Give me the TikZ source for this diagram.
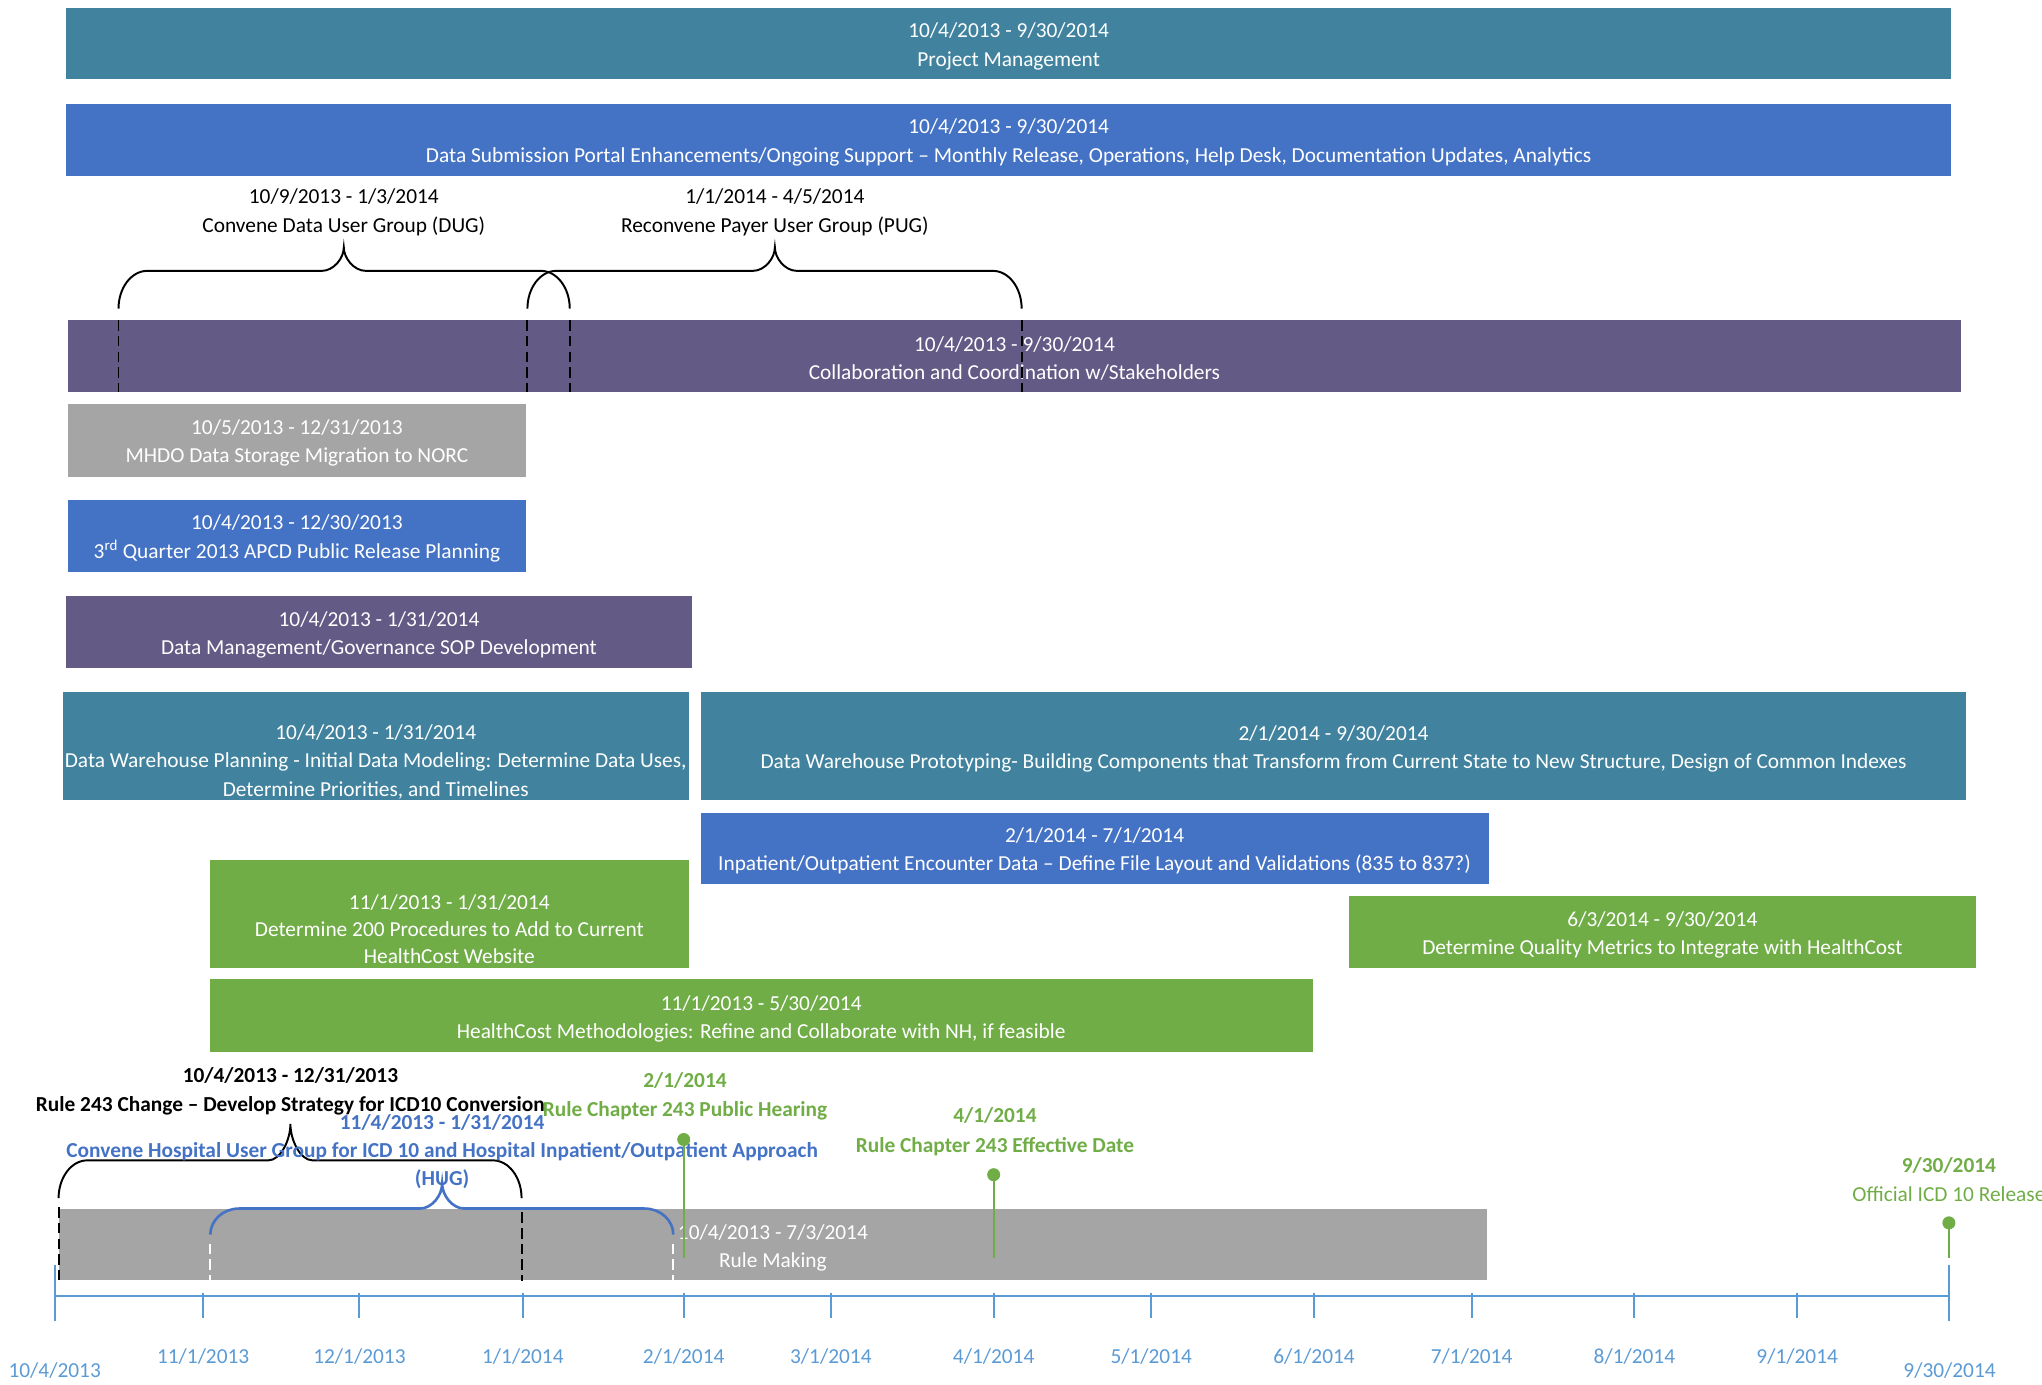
\documentclass[tikz,border=0pt]{standalone}
\usepackage{fontspec}
\setmainfont{Carlito}
\usetikzlibrary{positioning}
\definecolor{pmteal}{RGB}{65,131,158}
\definecolor{dsblue}{RGB}{68,114,196}
\definecolor{colpurple}{RGB}{99,90,134}
\definecolor{migray}{RGB}{165,165,165}
\definecolor{hcgreen}{RGB}{112,173,71}
\definecolor{axblue}{RGB}{91,155,213}
% brace: [style]{left x}{right x}{tip x}{end y}{line y}{tip y}
\newcommand{\tlbrace}[7][]{%
  \draw[#1] (#2,#5) .. controls (#2,{#5-0.552*(#5-#6)}) and ({#2+9.9},#6) .. ({#2+22},#6)
    -- ({#4-17},#6) .. controls ({#4-7.6},#6) and (#4,{#6-0.552*(#6-#7)}) .. (#4,#7)
    .. controls (#4,{#6-0.552*(#6-#7)}) and ({#4+7.6},#6) .. ({#4+17},#6)
    -- ({#3-22},#6) .. controls ({#3-9.9},#6) and (#3,{#5-0.552*(#5-#6)}) .. (#3,#5);}

\begin{document}
\begin{tikzpicture}[x=1pt,y=-1pt,
                    every node/.style={font=\fontsize{16.4}{21.8}\selectfont,align=center,inner sep=0pt,yshift=-2pt},
                    bartxt/.style={text=white},
                    bracepen/.style={line width=1.5pt},
                    dashpen/.style={line width=1.5pt,dash pattern=on 8pt off 4pt},
                    msline/.style={hcgreen,line width=1.5pt},
                    mstxt/.style={text=hcgreen,font=\fontsize{16.4}{22.5}\selectfont\bfseries},
                    tick/.style={axblue,line width=1.5pt},
                    axlbl/.style={text=axblue}]
    \useasboundingbox (0,0) rectangle (1568,1063.5);
    % bars
    \fill[pmteal] (51,6) rectangle (1498,61);
    \node[bartxt] (pm) at (774.5,33.5) {10/4/2013 - 9/30/2014\\Project Management};
    \fill[dsblue] (51,80) rectangle (1498,135);
    \node[bartxt] (portal) at (774.5,107.5) {10/4/2013 - 9/30/2014\\Data Submission Portal Enhancements/Ongoing Support -- Monthly Release, Operations, Help Desk, Documentation Updates, Analytics};
    \fill[colpurple] (52,246) rectangle (1506,301);
    \node[bartxt] (collab) at (779,273.5) {10/4/2013 - 9/30/2014\\Collaboration and Coordination w/Stakeholders};
    \fill[migray] (52,310) rectangle (404,366);
    \node[bartxt] (norc) at (228,338) {10/5/2013 - 12/31/2013\\MHDO Data Storage Migration to NORC};
    \fill[dsblue] (52,384) rectangle (404,439);
    \node[bartxt] (apcd) at (228,411.5) {10/4/2013 - 12/30/2013\\3\textsuperscript{rd} Quarter 2013 APCD Public Release Planning};
    \fill[colpurple] (51,458) rectangle (531,513);
    \node[bartxt] (sop) at (291,485.5) {10/4/2013 - 1/31/2014\\Data Management/Governance SOP Development};
    \fill[pmteal] (48,531) rectangle (529,614);
    \node[bartxt] (dwplan) at (288.5,583) {10/4/2013 - 1/31/2014\\Data Warehouse Planning - Initial Data Modeling: Determine Data Uses,\\Determine Priorities, and Timelines};
    \fill[pmteal] (538,531) rectangle (1510,614);
    \node[bartxt] (dwproto) at (1024,573) {2/1/2014 - 9/30/2014\\Data Warehouse Prototyping- Building Components that Transform from Current State to New Structure, Design of Common Indexes};
    \fill[dsblue] (538,624) rectangle (1143,679);
    \node[bartxt] (encounter) at (840.5,651.5) {2/1/2014 - 7/1/2014\\Inpatient/Outpatient Encounter Data -- Define File Layout and Validations (835 to 837?)};
    \fill[hcgreen] (161,660) rectangle (529,743);
    \node[bartxt,font=\fontsize{16.4}{20.8}\selectfont] (proc) at (345,711.5) {11/1/2013 - 1/31/2014\\Determine 200 Procedures to Add to Current\\HealthCost Website};
    \fill[hcgreen] (1036,688) rectangle (1517,743);
    \node[bartxt] (quality) at (1276.5,716) {6/3/2014 - 9/30/2014\\Determine Quality Metrics to Integrate with HealthCost};
    \fill[hcgreen] (161,752) rectangle (1008,808);
    \node[bartxt] (method) at (584.5,780.5) {11/1/2013 - 5/30/2014\\HealthCost Methodologies: Refine and Collaborate with NH, if feasible};
    \fill[migray] (45,928) rectangle (1142,983);
    \node[bartxt] (rule) at (593.5,956) {10/4/2013 - 7/3/2014\\Rule Making};
    % user groups over the collaboration bar
    \tlbrace[bracepen]{91}{437.5}{264}{237}{208}{190}
    \tlbrace[bracepen]{405}{784.5}{595}{237}{208}{190}
    \foreach \x in {91,405,437.5,784.5}
        \draw[dashpen] (\x,246) -- (\x,301);
    \node (dug) at (264,161) {10/9/2013 - 1/3/2014\\Convene Data User Group (DUG)};
    \node (pug) at (595,161) {1/1/2014 - 4/5/2014\\Reconvene Payer User Group (PUG)};
    % rule making groups
    \tlbrace[bracepen]{45}{400.5}{223}{920}{891}{863}
    \draw[dashpen] (45,927) -- (45,984);
    \draw[dashpen] (400.5,931) -- (400.5,984);
    \tlbrace[bracepen,dsblue,line width=2pt]{161.5}{517}{339.5}{948}{928}{909}
    \draw[dashpen,white] (161.5,955) -- (161.5,984);
    \draw[dashpen,white] (517,955) -- (517,984);
    \node[font=\fontsize{16.4}{22.5}\selectfont\bfseries] (icd) at (223,836) {10/4/2013 - 12/31/2013\\Rule 243 Change -- Develop Strategy for ICD10 Conversion};
    \node[text=dsblue,font=\fontsize{16.4}{21.5}\selectfont\bfseries] (hug) at (339.5,882) {11/4/2013 - 1/31/2014\\Convene Hospital User Group for ICD 10 and Hospital Inpatient/Outpatient Approach\\(HUG)};
    % milestones
    \coordinate (hearing) at (525,873);
    \fill[hcgreen] (hearing) circle (5);
    \draw[msline] (hearing) -- (525,966);
    \node[mstxt] (hearingtxt) at (526,840) {2/1/2014\\Rule Chapter 243 Public Hearing};
    \coordinate (effective) at (763,900);
    \fill[hcgreen] (effective) circle (5);
    \draw[msline] (effective) -- (763,966);
    \node[mstxt] (effectivetxt) at (764,867) {4/1/2014\\Rule Chapter 243 Effective Date};
    \coordinate (release) at (1496.5,937);
    \fill[hcgreen] (release) circle (5);
    \draw[msline] (release) -- (1496.5,966);
    \node[mstxt] (releasetxt) at (1496.5,904) {9/30/2014\\\mdseries Official ICD 10 Release};
    % time axis
    \coordinate (axstart) at (42,993);
    \coordinate (axend) at (1496.5,993);
    \draw[axblue,line width=2pt] (axstart) -- (axend);
    \draw[tick] (42,971) -- (42,1014);
    \draw[tick] (1496.5,971) -- (1496.5,1014);
    \foreach \x/\m/\yr in {156/11/2013,276/12/2013,401.5/1/2014,525/2/2014,638/3/2014,763/4/2014,
                           884/5/2014,1009/6/2014,1130/7/2014,1255/8/2014,1380/9/2014}{
        \draw[tick] (\x,993) -- (\x,1012);
        \node[axlbl] (m\m) at (\x,1040) {\m/1/\yr};
    }
    \node[axlbl] (axfirst) at (42,1050) {10/4/2013};
    \node[axlbl] (axlast) at (1497,1050) {9/30/2014};
\end{tikzpicture}
\end{document}
